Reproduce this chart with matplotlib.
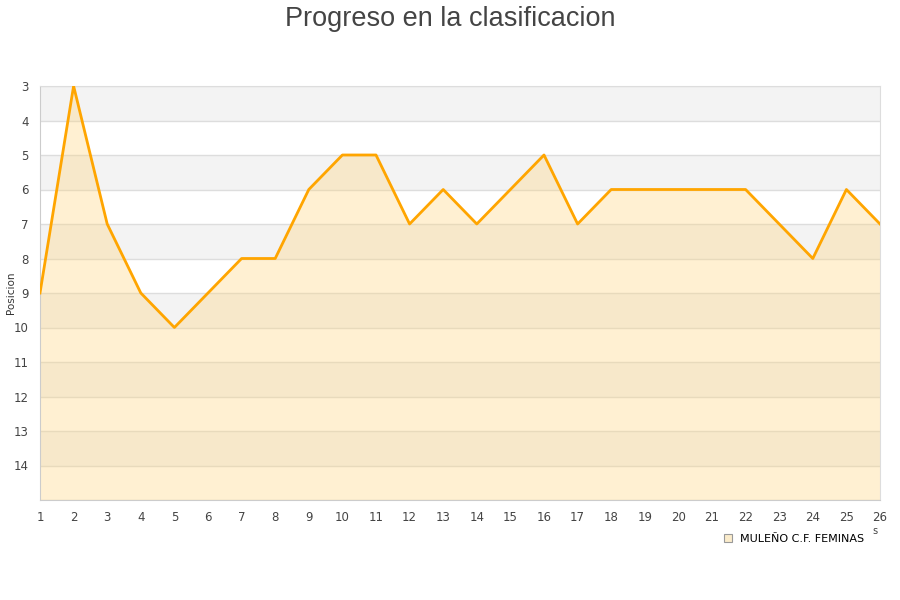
import matplotlib
matplotlib.use("Agg")
import matplotlib.pyplot as plt
from matplotlib.lines import Line2D

jornadas = list(range(1, 27))
posiciones = [9, 3, 7, 9, 10, 9, 8, 8, 6, 5, 5, 7, 6, 7, 6, 5, 7, 6, 6, 6, 6, 6, 7, 8, 6, 7]
equipo = "MULEÑO C.F. FEMINAS"
titulo = "Progreso en la clasificacion"

plt.rcParams['font.family'] = ['DejaVu Sans']

fig = plt.figure(figsize=(9, 6), dpi=100)
ax = fig.add_axes([40 / 900, 100 / 600, 840 / 900, 414 / 600])

ymin, ymax = 3, 15
# bandas alternas de fondo
for y in range(ymin, ymax, 2):
    ax.axhspan(y, y + 1, color='#f3f3f3', zorder=0, lw=0)
for y in range(ymin, ymax + 1):
    ax.axhline(y, color='#dddddd', lw=1, zorder=1)

ax.fill_between(jornadas, posiciones, ymax, color='#ffd57f', alpha=0.35, lw=0, zorder=2)
ax.plot(jornadas, posiciones, color='#ffa500', lw=2.0, zorder=3)

ax.set_xlim(1, 26)
ax.set_ylim(ymax, ymin)
ax.set_xticks(jornadas)
ax.set_yticks(range(3, 15))
ax.tick_params(length=0, labelsize=8.5, colors='#444444', pad=8)
for s in ax.spines.values():
    s.set_color('#dddddd')
ax.spines['left'].set_color('#cccccc')
ax.spines['bottom'].set_color('#cccccc')

fig.text(11 / 900, 1 - 293 / 600, 'Posicion', rotation=90, ha='center', va='center',
         fontsize=7.5, color='#333333')
fig.text(0.5, 1 - 19 / 600, titulo, ha='center', va='center', fontsize=19.5,
         color='#444444', family='Liberation Sans')
fig.text(875 / 900, 1 - 531 / 600, 's', ha='center', va='center', fontsize=7, color='#444444')

handle = Line2D([], [], marker='s', linestyle='none', markersize=6,
                markerfacecolor='#fbeccb', markeredgecolor='#999999', markeredgewidth=0.8)
fig.legend([handle], [equipo], loc='center right', bbox_to_anchor=(870 / 900, 1 - 539 / 600),
           frameon=False, fontsize=8, handletextpad=0.55, handlelength=1.2, borderpad=0)

fig.savefig('out.png', dpi=100)
